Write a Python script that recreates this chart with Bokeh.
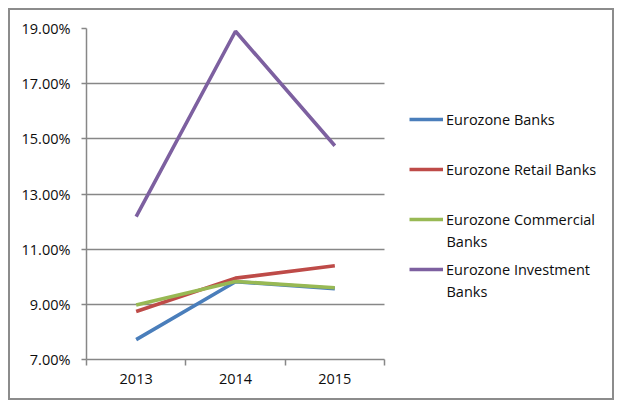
from bokeh.plotting import figure
from bokeh.models import (FixedTicker, PrintfTickFormatter, Range1d, Legend, LegendItem, Label)
from bokeh.embed import file_html
from bokeh.resources import INLINE

years = ["2013", "2014", "2015"]
eurozone_banks = [7.72, 9.82, 9.57]
retail_banks = [8.74, 9.95, 10.40]
commercial_banks = [8.98, 9.83, 9.60]
investment_banks = [12.18, 18.90, 14.75]
y_ticks = [7, 9, 11, 13, 15, 17, 19]

series = [
    ("Eurozone Banks", eurozone_banks, "#4A7EBB"),
    ("Eurozone Retail Banks", retail_banks, "#BE4B48"),
    ("Eurozone Commercial", commercial_banks, "#98B954"),
    ("Eurozone Investment", investment_banks, "#7D60A0"),
]

FONT = "Open Sans"
FS = "14.5px"
GRAY = "#878787"
TXT = "#0d0d0d"

W, H = 606, 392
LEFT, TOP, BOTTOM, RIGHT = 76, 18, 43, 6
AXIS_W = 298  # pixel width of the category axis part
frame_w = W - LEFT - RIGHT
x_end = len(years) * frame_w / AXIS_W

xs = [i + 0.5 for i in range(len(years))]

p = figure(width=W, height=H, output_backend="svg", toolbar_location=None,
           x_range=Range1d(0, x_end), y_range=Range1d(y_ticks[0], y_ticks[-1]),
           min_border_left=LEFT, min_border_right=RIGHT, min_border_top=TOP, min_border_bottom=BOTTOM,
           styles={"border": "2px solid #8c8c8c", "box-sizing": "border-box",
                   "margin-left": "8px", "margin-top": "8px"})
p.outline_line_color = None
p.background_fill_color = "white"
p.border_fill_color = "white"

# y axis
p.yaxis.ticker = FixedTicker(ticks=y_ticks)
p.yaxis.formatter = PrintfTickFormatter(format="%.2f%%")
p.yaxis.axis_line_color = GRAY
p.yaxis.axis_line_width = 1.5
p.yaxis.major_tick_line_color = GRAY
p.yaxis.major_tick_line_width = 1.5
p.yaxis.major_tick_out = 5
p.yaxis.major_tick_in = 0
p.yaxis.minor_tick_line_color = None
p.yaxis.major_label_standoff = 11
p.yaxis.major_label_text_font = FONT
p.yaxis.major_label_text_font_size = FS
p.yaxis.major_label_text_color = TXT

# x axis
p.xaxis.bounds = (0, len(years))
p.xaxis.ticker = FixedTicker(ticks=xs, minor_ticks=list(range(len(years) + 1)))
p.xaxis.major_label_overrides = {x: y for x, y in zip(xs, years)}
p.xaxis.axis_line_color = GRAY
p.xaxis.axis_line_width = 1.5
p.xaxis.major_tick_line_color = None
p.xaxis.minor_tick_line_color = GRAY
p.xaxis.minor_tick_line_width = 1.5
p.xaxis.minor_tick_out = 6
p.xaxis.minor_tick_in = 0
p.xaxis.major_label_standoff = 8
p.xaxis.major_label_text_font = FONT
p.xaxis.major_label_text_font_size = FS
p.xaxis.major_label_text_color = TXT

p.xgrid.grid_line_color = None
p.ygrid.ticker = FixedTicker(ticks=y_ticks)
p.ygrid.cross_bounds = (0, len(years))
p.ygrid.grid_line_color = GRAY
p.ygrid.grid_line_width = 1.5

items = []
for name, vals, color in series:
    r = p.line(xs, vals, line_color=color, line_width=3.6)
    items.append(LegendItem(label=name, renderers=[r]))

legend = Legend(items=items, location=(323, 80), padding=0, margin=0,
                spacing=30, label_height=20, glyph_height=20, glyph_width=34,
                label_standoff=3, border_line_color=None, background_fill_alpha=0,
                label_text_font=FONT, label_text_font_size=FS,
                label_text_color=TXT)
p.add_layout(legend, "center")

for yv in (118, 68):
    p.add_layout(Label(x=360, y=yv, x_units="screen", y_units="screen", text="Banks",
                       text_font=FONT, text_font_size=FS, text_color=TXT,
                       text_baseline="middle"))

open("out.html", "w").write(file_html(p, INLINE))
